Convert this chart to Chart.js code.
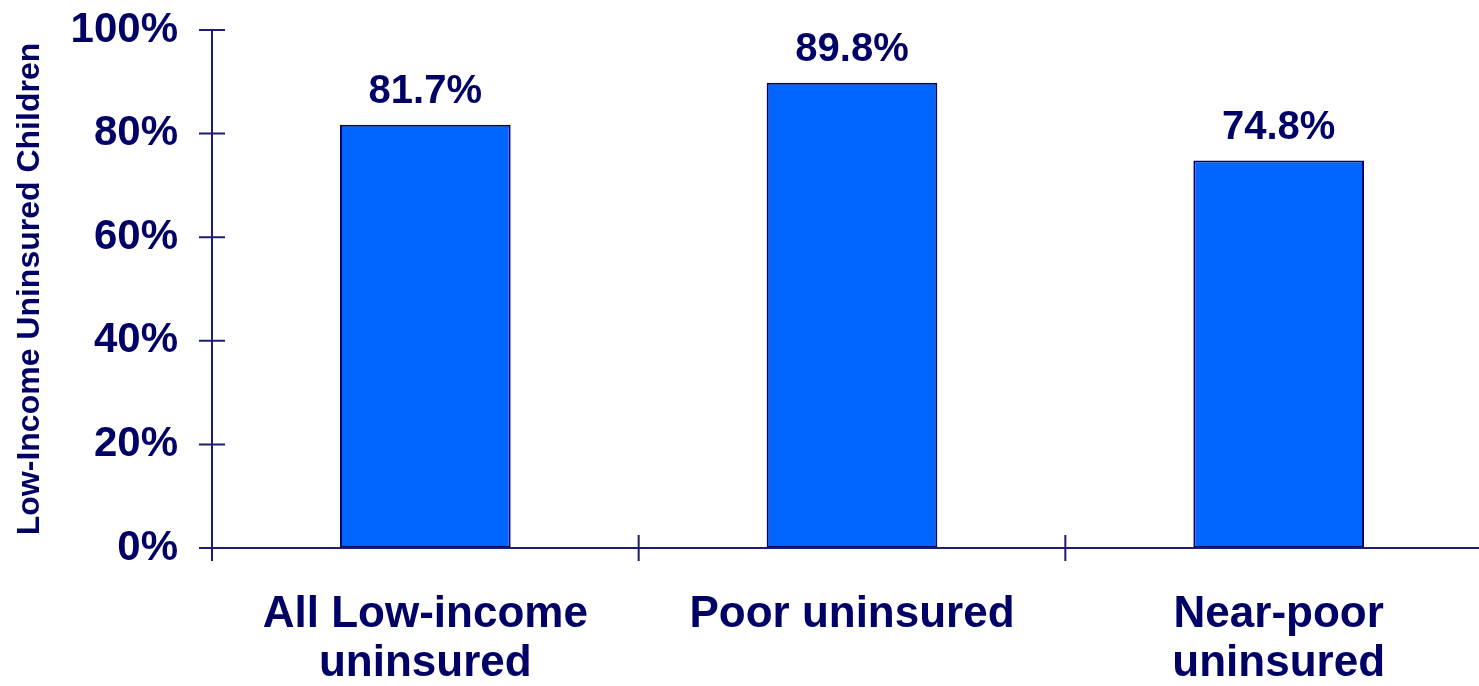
<!DOCTYPE html>
<html>
<head>
<meta charset="utf-8">
<script src="https://cdn.jsdelivr.net/npm/chart.js@4/dist/chart.umd.min.js"></script>
<style>
	html, body { margin: 0; padding: 0; background: #fff; }
	#wrap { width: 1479px; height: 686px; overflow: hidden; }
	canvas { display: block; }
</style>
</head>
<body>
<div id="wrap"><canvas id="bar-chart" width="1492" height="686"></canvas></div>
<script>
var categories = [['All Low-income', 'uninsured'], ['Poor uninsured'], ['Near-poor', 'uninsured']];
var shares = [81.7, 89.8, 74.8];
var yTicks = [0, 20, 40, 60, 80, 100];

var navy = '#000066';
var axisColor = '#1c1c70';
var fontFamily = '"Liberation Sans", Arial, Helvetica, sans-serif';

// axis lines with ticks crossing both sides, drawn by hand
var axisPlugin = {
	id: 'axisLines',
	afterDatasetsDraw: function(chart) {
		var ctx = chart.ctx, area = chart.chartArea;
		var x = chart.scales.x, y = chart.scales.y;
		var tl = 13;
		ctx.save();
		ctx.strokeStyle = axisColor;
		ctx.lineWidth = 2;
		ctx.beginPath();
		ctx.moveTo(area.left, y.getPixelForValue(100));
		ctx.lineTo(area.left, area.bottom + tl);
		ctx.moveTo(area.left - tl, area.bottom);
		ctx.lineTo(chart.width, area.bottom);
		yTicks.forEach(function(v) {
			var py = y.getPixelForValue(v);
			ctx.moveTo(area.left - tl, py);
			ctx.lineTo(area.left + tl, py);
		});
		var half = (x.getPixelForValue(1) - x.getPixelForValue(0)) / 2;
		for (var i = 1; i <= categories.length; i++) {
			var px = x.getPixelForValue(i) - half;
			ctx.moveTo(px, area.bottom - tl);
			ctx.lineTo(px, area.bottom + tl);
		}
		ctx.stroke();
		ctx.restore();
	}
};

// percentage labels above each bar
var valueLabels = {
	id: 'valueLabels',
	afterDatasetsDraw: function(chart) {
		var ctx = chart.ctx;
		var meta = chart.getDatasetMeta(0);
		ctx.save();
		ctx.fillStyle = navy;
		ctx.font = 'bold 40px ' + fontFamily;
		ctx.textAlign = 'center';
		ctx.textBaseline = 'alphabetic';
		meta.data.forEach(function(bar, i) {
			ctx.fillText(shares[i].toFixed(1) + '%', bar.x, bar.y - 22);
		});
		ctx.restore();
	}
};

var ctx = document.getElementById('bar-chart').getContext('2d');
var barChart = new Chart(ctx, {
	type: 'bar',
	data: {
		labels: categories,
		datasets: [{
			data: shares,
			backgroundColor: '#0066ff',
			borderColor: '#00007a',
			borderWidth: 2,
			borderSkipped: false,
			barPercentage: 0.4,
			categoryPercentage: 1
		}]
	},
	options: {
		responsive: false,
		animation: false,
		layout: { padding: { top: 30, left: 0, right: 0, bottom: 0 } },
		plugins: {
			legend: { display: false },
			tooltip: { enabled: false }
		},
		scales: {
			x: {
				grid: { display: false, drawTicks: false },
				border: { display: false },
				ticks: {
					color: navy,
					padding: 42,
					maxRotation: 0,
					autoSkip: false,
					font: { family: fontFamily, size: 44, weight: 'bold', lineHeight: 1.12 }
				},
				afterFit: function(scale) { scale.height = 138; }
			},
			y: {
				min: 0,
				max: 100,
				grid: { display: false, drawTicks: false },
				border: { display: false },
				ticks: {
					stepSize: 20,
					color: navy,
					padding: 34,
					font: { family: fontFamily, size: 42, weight: 'bold' },
					callback: function(v) { return v + '%'; }
				},
				title: {
					display: true,
					text: 'Low-Income Uninsured Children',
					color: navy,
					padding: { top: 11, bottom: 0 },
					font: { family: fontFamily, size: 32, weight: 'bold' }
				},
				afterFit: function(scale) {
					scale.width = 212;
					scale.paddingTop = 0;
					scale.paddingBottom = 0;
				}
			}
		}
	},
	plugins: [axisPlugin, valueLabels]
});
</script>
</body>
</html>
